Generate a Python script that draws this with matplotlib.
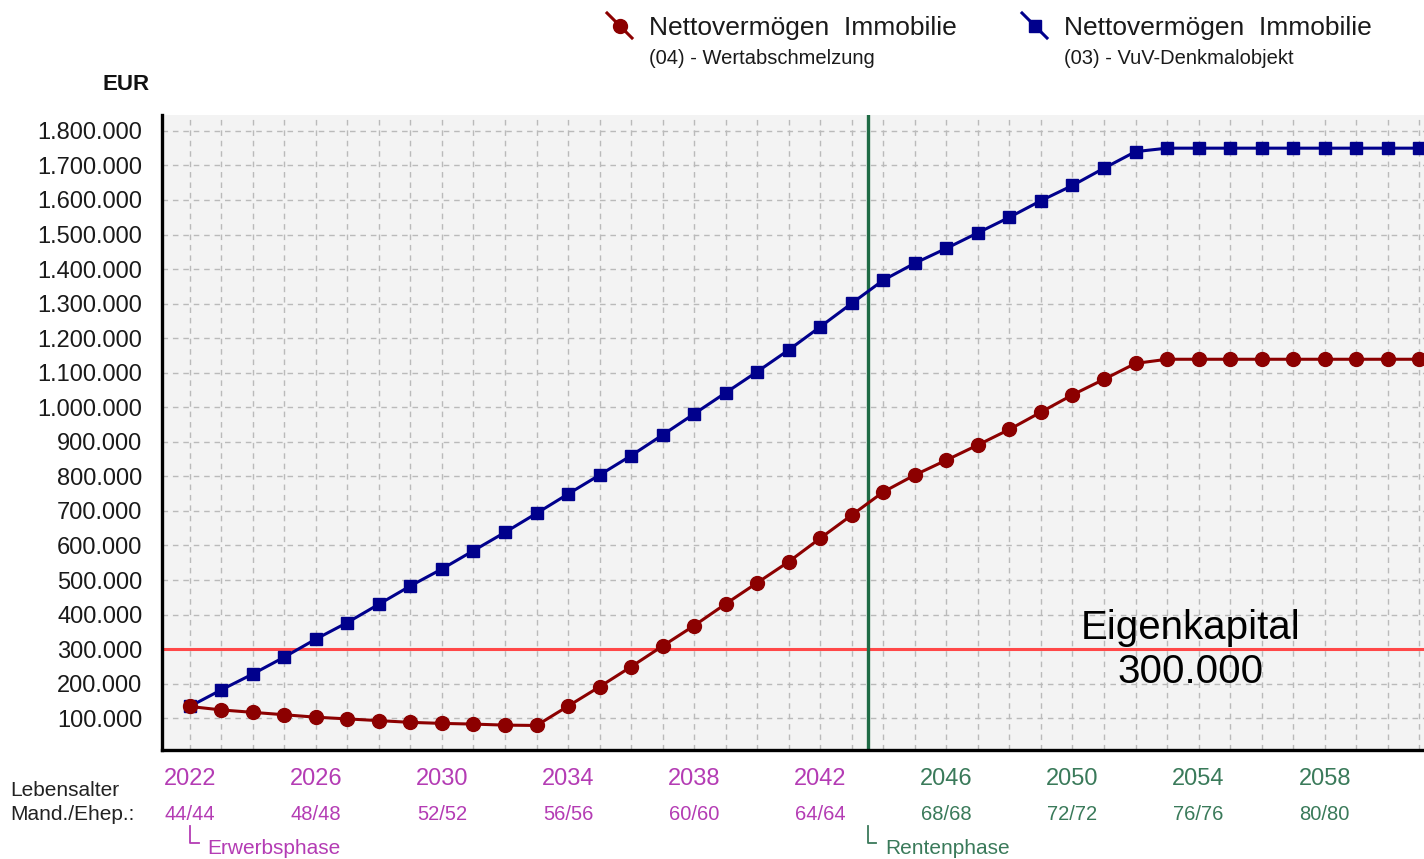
import matplotlib
matplotlib.use("Agg")
import matplotlib.pyplot as plt
from matplotlib.lines import Line2D
from matplotlib.transforms import blended_transform_factory
from matplotlib.ticker import FuncFormatter, MultipleLocator

# ---- data -------------------------------------------------------------
years = list(range(2022, 2062))

wertabschmelzung = [
    134000, 124000, 117000, 110000, 103000, 98000, 93000, 88000, 85000, 83000,
    80000, 79000, 135000, 191000, 249000, 309000, 368000, 431000, 492000, 553000,
    621000, 688000, 755000, 804000, 847000, 891000, 936000, 986000, 1036000, 1081000,
    1127000, 1139000, 1139000, 1139000, 1139000, 1139000, 1139000, 1139000, 1139000, 1139000,
]

denkmalobjekt = [
    134000, 182000, 228000, 277000, 329000, 377000, 430000, 483000, 532000, 585000,
    638000, 693000, 749000, 804000, 860000, 920000, 981000, 1042000, 1103000, 1166000,
    1233000, 1301000, 1368000, 1417000, 1460000, 1505000, 1550000, 1598000, 1642000, 1692000,
    1740000, 1750000, 1750000, 1750000, 1750000, 1750000, 1750000, 1750000, 1750000, 1750000,
]

label_years = [2022, 2026, 2030, 2034, 2038, 2042, 2046, 2050, 2054, 2058]
ages = ["44/44", "48/48", "52/52", "56/56", "60/60", "64/64", "68/68", "72/72", "76/76", "80/80"]

eigenkapital = 300000
rentenbeginn = 2043.5
erwerbsbeginn = 2022

series_names = ["Nettovermögen  Immobilie", "Nettovermögen  Immobilie"]
series_subs = ["(04) - Wertabschmelzung", "(03) - VuV-Denkmalobjekt"]

# ---- style ------------------------------------------------------------
RED = "#8c0000"
BLUE = "#00008c"
MAGENTA = "#b43cb4"
GREEN = "#3a7a5a"
LINE_GREEN = "#1f6b45"
FONT = "Liberation Sans"

plt.rcParams["font.family"] = [FONT, "DejaVu Sans"]

W, H = 1424, 859
fig = plt.figure(figsize=(W / 100, H / 100), dpi=100)
fig.patch.set_facecolor("white")

left, right, bottom, top = 162, 1424, 750, 115
ax = fig.add_axes([left / W, 1 - bottom / H, (right - left) / W, (bottom - top) / H])
ax.set_facecolor("#f3f3f3")

ax.set_xlim(2021.12, 2061.15)
ax.set_ylim(8000, 1846000)

# grid
ax.xaxis.set_minor_locator(MultipleLocator(1))
ax.set_xticks(label_years)
ax.set_yticks(range(100000, 1800001, 100000))
grid_kw = dict(color="#bababa", linewidth=1.0, linestyle=(0, (4, 3.5)))
ax.grid(True, which="major", axis="both", **grid_kw)
ax.grid(True, which="minor", axis="x", **grid_kw)
ax.set_axisbelow(True)

for s in ["top", "right"]:
    ax.spines[s].set_visible(False)
for s in ["left", "bottom"]:
    ax.spines[s].set_linewidth(2.4)
    ax.spines[s].set_color("black")

ax.yaxis.set_major_formatter(FuncFormatter(lambda v, p: f"{int(v):,}".replace(",", ".")))
ax.tick_params(axis="y", length=0, pad=14, labelsize=17, labelcolor="#1a1a1a")
ax.tick_params(axis="x", which="both", length=0, pad=13, labelsize=17)
for lbl, yr in zip(ax.get_xticklabels(), label_years):
    lbl.set_color(MAGENTA if yr < rentenbeginn else GREEN)

# reference lines
ax.axhline(eigenkapital, color="#ff4848", linewidth=2.2, zorder=2)
ax.axvline(rentenbeginn, color=LINE_GREEN, linewidth=2.4, zorder=2)

# series
ax.plot(years, denkmalobjekt, color=BLUE, linewidth=2.2, marker="s", markersize=8.5,
        zorder=4)
ax.plot(years, wertabschmelzung, color=RED, linewidth=2.2, marker="o", markersize=10,
        zorder=5)

# Eigenkapital annotation
ax.text(2053.75, 361000, "Eigenkapital", ha="center", va="center", fontsize=29, color="black")
ax.text(2053.75, 234000, f"{eigenkapital:,}".replace(",", "."), ha="center", va="center",
        fontsize=29, color="black")

# ---- labels below the x axis -----------------------------------------
bt = blended_transform_factory(ax.transData, fig.transFigure)


def fy(ypx):
    return 1 - ypx / H


for yr, age in zip(label_years, ages):
    ax.text(yr, fy(815), age, transform=bt, ha="center", va="center", fontsize=14.5,
            color=MAGENTA if yr < rentenbeginn else GREEN)

fig.text(10 / W, fy(790), "Lebensalter", ha="left", va="center", fontsize=15, color="#222222")
fig.text(10 / W, fy(815), "Mand./Ehep.:", ha="left", va="center", fontsize=15, color="#222222")

for x0, name, col in [(erwerbsbeginn, "Erwerbsphase", MAGENTA), (rentenbeginn, "Rentenphase", GREEN)]:
    ax.add_line(Line2D([x0, x0, x0 + 0.28], [fy(826), fy(843), fy(843)], transform=bt,
                       color=col, linewidth=1.3, clip_on=False))
    ax.text(x0 + 0.55, fy(849), name, transform=bt, ha="left", va="center", fontsize=15,
            color=col)

fig.text(126 / W, fy(85), "EUR", ha="center", va="center", fontsize=16, fontweight="bold",
         color="#111111")

# ---- legend -----------------------------------------------------------
legend_items = [(607, RED, "o", 10), (1022, BLUE, "s", 8.5)]
for (x0, col, mk, ms), name, sub in zip(legend_items, series_names, series_subs):
    fig.add_artist(Line2D([x0 / W, (x0 + 25) / W], [fy(13), fy(38)], color=col, linewidth=2.2))
    fig.add_artist(Line2D([(x0 + 12.5) / W], [fy(25.5)], color=col, marker=mk, markersize=ms,
                          linestyle="none"))
    fig.text((x0 + 42) / W, fy(28), name, ha="left", va="center", fontsize=19, color="#1a1a1a")
    fig.text((x0 + 42) / W, fy(58), sub, ha="left", va="center", fontsize=14.5, color="#1a1a1a")

fig.savefig("out.png", dpi=100, facecolor="white")
